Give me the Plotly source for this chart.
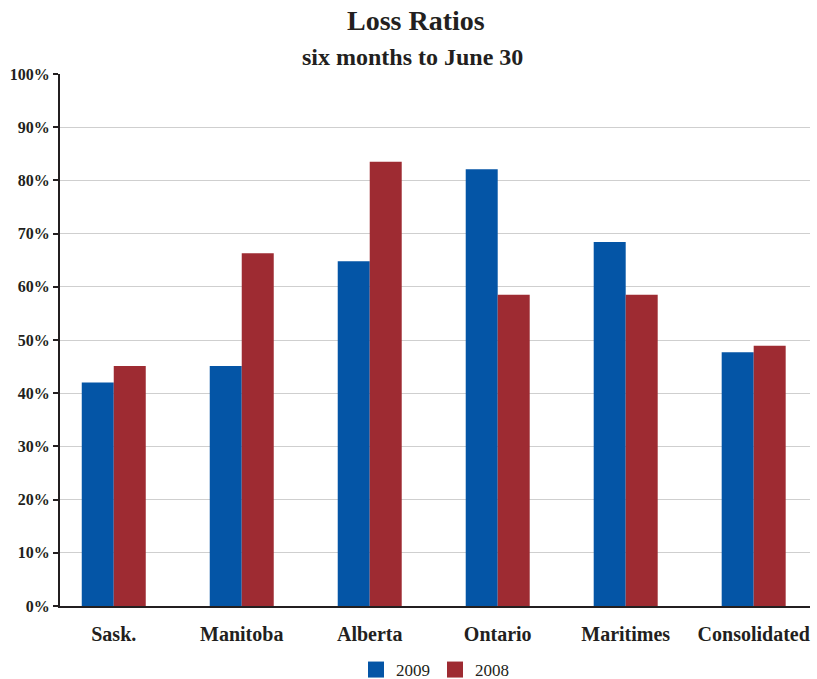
import plotly.graph_objects as go

categories = ["Sask.", "Manitoba", "Alberta", "Ontario", "Maritimes", "Consolidated"]
values_2009 = [42.0, 45.1, 64.8, 82.1, 68.4, 47.7]
values_2008 = [45.1, 66.3, 83.5, 58.5, 58.5, 48.9]
series_names = ["2009", "2008"]
y_ticks = [0, 10, 20, 30, 40, 50, 60, 70, 80, 90, 100]
y_tick_labels = [f"{v}%" for v in y_ticks]

FONT = "Liberation Serif"
BLUE = "#0455A6"
RED = "#9E2B32"
TXT = "#231f20"

fig = go.Figure()
for name, vals, col in zip(series_names, [values_2009, values_2008], [BLUE, RED]):
    fig.add_trace(go.Bar(name=name, x=categories, y=vals, marker_color=col,
                         marker_line_width=0, showlegend=False))
# legend proxies with larger square swatches
for name, col in zip(series_names, [BLUE, RED]):
    fig.add_trace(go.Scatter(name=name, x=[None], y=[None], mode="markers",
                             marker=dict(symbol="square", size=17, color=col), showlegend=True))

fig.update_layout(
    width=817, height=679,
    margin=dict(l=60, r=7, t=74, b=73),
    paper_bgcolor="white", plot_bgcolor="white",
    barmode="group", bargap=0.5, bargroupgap=0,
    font=dict(family=FONT, color=TXT),
    showlegend=True,
    legend=dict(orientation="h", x=0.5, xanchor="center", xref="paper",
                y=(679 - 670) / 679, yanchor="middle", yref="container",
                font=dict(size=17, family=FONT, color=TXT),
                itemwidth=30, tracegroupgap=0, itemclick=False),
    xaxis=dict(range=[-0.42, 5.44], showgrid=False, showline=True, linecolor=TXT, linewidth=2,
               ticks="", tickfont=dict(size=20, family=FONT, color=TXT, weight="bold"),
               ticklabelstandoff=9, zeroline=False),
    yaxis=dict(range=[0, 100], tickvals=y_ticks, ticktext=y_tick_labels,
               showgrid=True, gridcolor="#cfcfcf", gridwidth=1,
               showline=True, linecolor=TXT, linewidth=2,
               ticks="outside", ticklen=5, tickwidth=2, tickcolor=TXT,
               tickfont=dict(size=16, family=FONT, color=TXT, weight="bold"),
               zeroline=False),
    annotations=[
        dict(text="<b>Loss Ratios</b>", x=0.475, xref="paper", y=20, yref="paper",
             showarrow=False, font=dict(size=28, family=FONT, color=TXT)),
        dict(text="<b>six months to June 30</b>", x=0.47, xref="paper", y=57, yref="paper",
             showarrow=False, font=dict(size=24, family=FONT, color=TXT)),
    ],
)
plot_top, plot_h = 74, 532
for a in fig.layout.annotations:
    a.y = (plot_top + plot_h - a.y) / plot_h
    a.yanchor = "middle"

fig.write_html("out.html")
